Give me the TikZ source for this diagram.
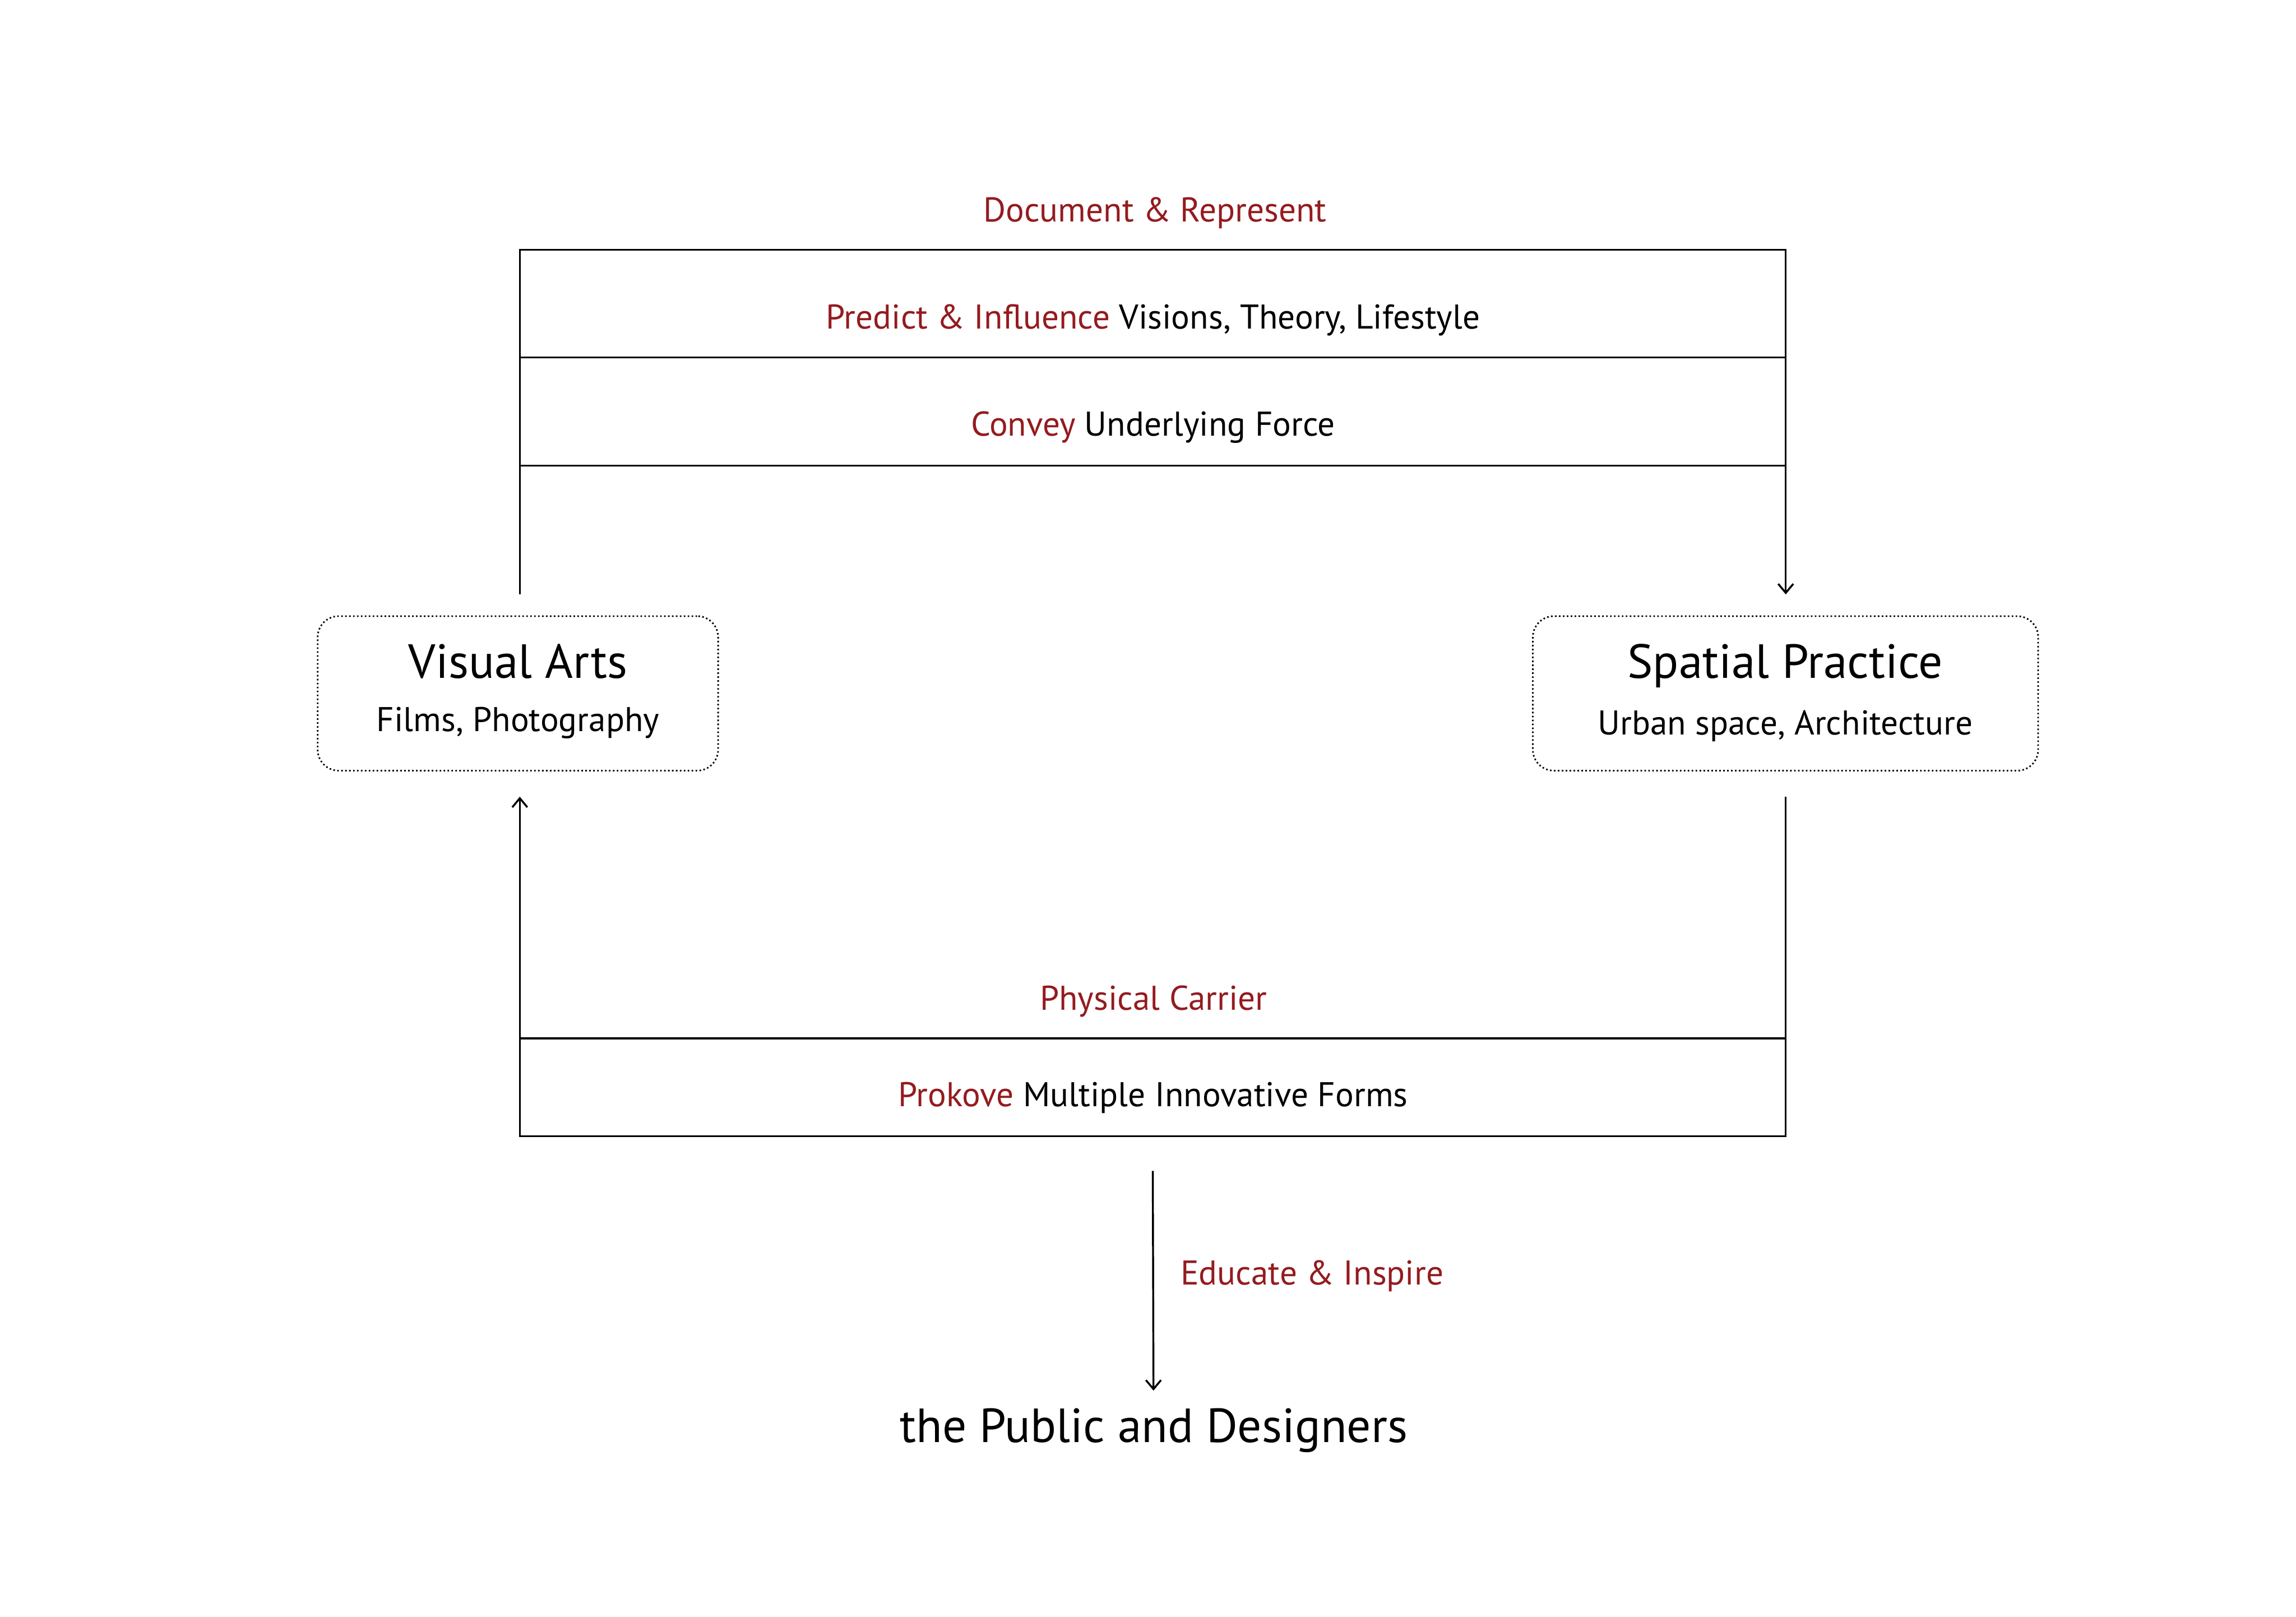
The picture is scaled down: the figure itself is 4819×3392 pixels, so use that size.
\documentclass[tikz,border=0pt]{standalone}
\usepackage{fontspec}
\setmainfont{PT Sans}
\usetikzlibrary{arrows.meta,calc}
\definecolor{accent}{RGB}{148,27,31}
\begin{document}
\begin{tikzpicture}[x=0.01cm,y=-0.01cm,
  frame/.style={line width=1.15pt, black, line join=miter},
  arr/.style={frame, -{Straight Barb[length=5.4pt,width=9pt,line width=1.15pt]}},
  dotbox/.style={draw, line width=0.95pt, dash pattern=on 0.95pt off 1.4pt, rounded corners=0.44cm, inner sep=0pt},
  small/.style={font=\fontsize{20.5}{24}\selectfont, anchor=base, inner sep=0pt},
  big/.style={font=\fontsize{28.6}{32}\selectfont, anchor=base, inner sep=0pt}
]
\useasboundingbox (0,0) rectangle (4819,3392);

% boxes
\node[dotbox, minimum width=8.40cm, minimum height=3.24cm] (va) at (1087,1455) {};
\node[dotbox, minimum width=10.60cm, minimum height=3.24cm] (sp) at (3747.5,1455) {};

% box texts
\node[big] (vat) at (1087,1423) {Visual Arts};
\node[small] (vas) at (1087,1535) {Films, Photography};
\node[big] (spt) at (3747,1423) {Spatial Practice};
\node[small] (sps) at (3747,1542) {Urban space, Architecture};

% frame coordinates
\coordinate (a1) at (1091,524);
\coordinate (a2) at (3748,524);
\coordinate (b1) at (1091,750);
\coordinate (b2) at (3748,750);
\coordinate (c1) at (1091,977);
\coordinate (c2) at (3748,977);
\coordinate (d1) at (1091,2179);
\coordinate (d2) at (3748,2179);
\coordinate (e1) at (1091,2384);
\coordinate (e2) at (3748,2384);
\coordinate (emid) at ($(e1)!0.5!(e2)$);
\coordinate (tip) at (2421,2918);

% top connector: Visual Arts -> Spatial Practice
\draw[arr] ($(a1 |- va.north)+(0,-44)$) -- (a1) -- (a2) -- ($(a2 |- sp.north)+(0,-44)$);
\draw[frame] (b1) -- (b2);
\draw[frame] (c1) -- (c2);

% bottom connector: Spatial Practice -> Visual Arts
\draw[arr] ($(e2 |- sp.south)+(0,53)$) -- (e2) -- (e1) -- ($(e1 |- va.south)+(0,53)$);
\draw[frame] (d1) -- (d2);

% down arrow to the public
\draw[arr] ($(emid)+(0,73)$) -- (tip);

% labels
\node[small, text=accent] (doc) at (2424,465) {Document \& Represent};
\node[small] (pred) at (2420,690) {\textcolor{accent}{Predict \& Influence} Visions, Theory, Lifestyle};
\node[small] (conv) at (2420,915) {\textcolor{accent}{Convey} Underlying Force};
\node[small, text=accent] (phys) at (2421,2120) {Physical Carrier};
\node[small] (prok) at (2420,2322) {\textcolor{accent}{Prokove} Multiple Innovative Forms};
\node[small, text=accent, anchor=base west] (edu) at (2477,2696) {Educate \& Inspire};
\node[big] (pub) at (2422,3027) {the Public and Designers};
\end{tikzpicture}
\end{document}
